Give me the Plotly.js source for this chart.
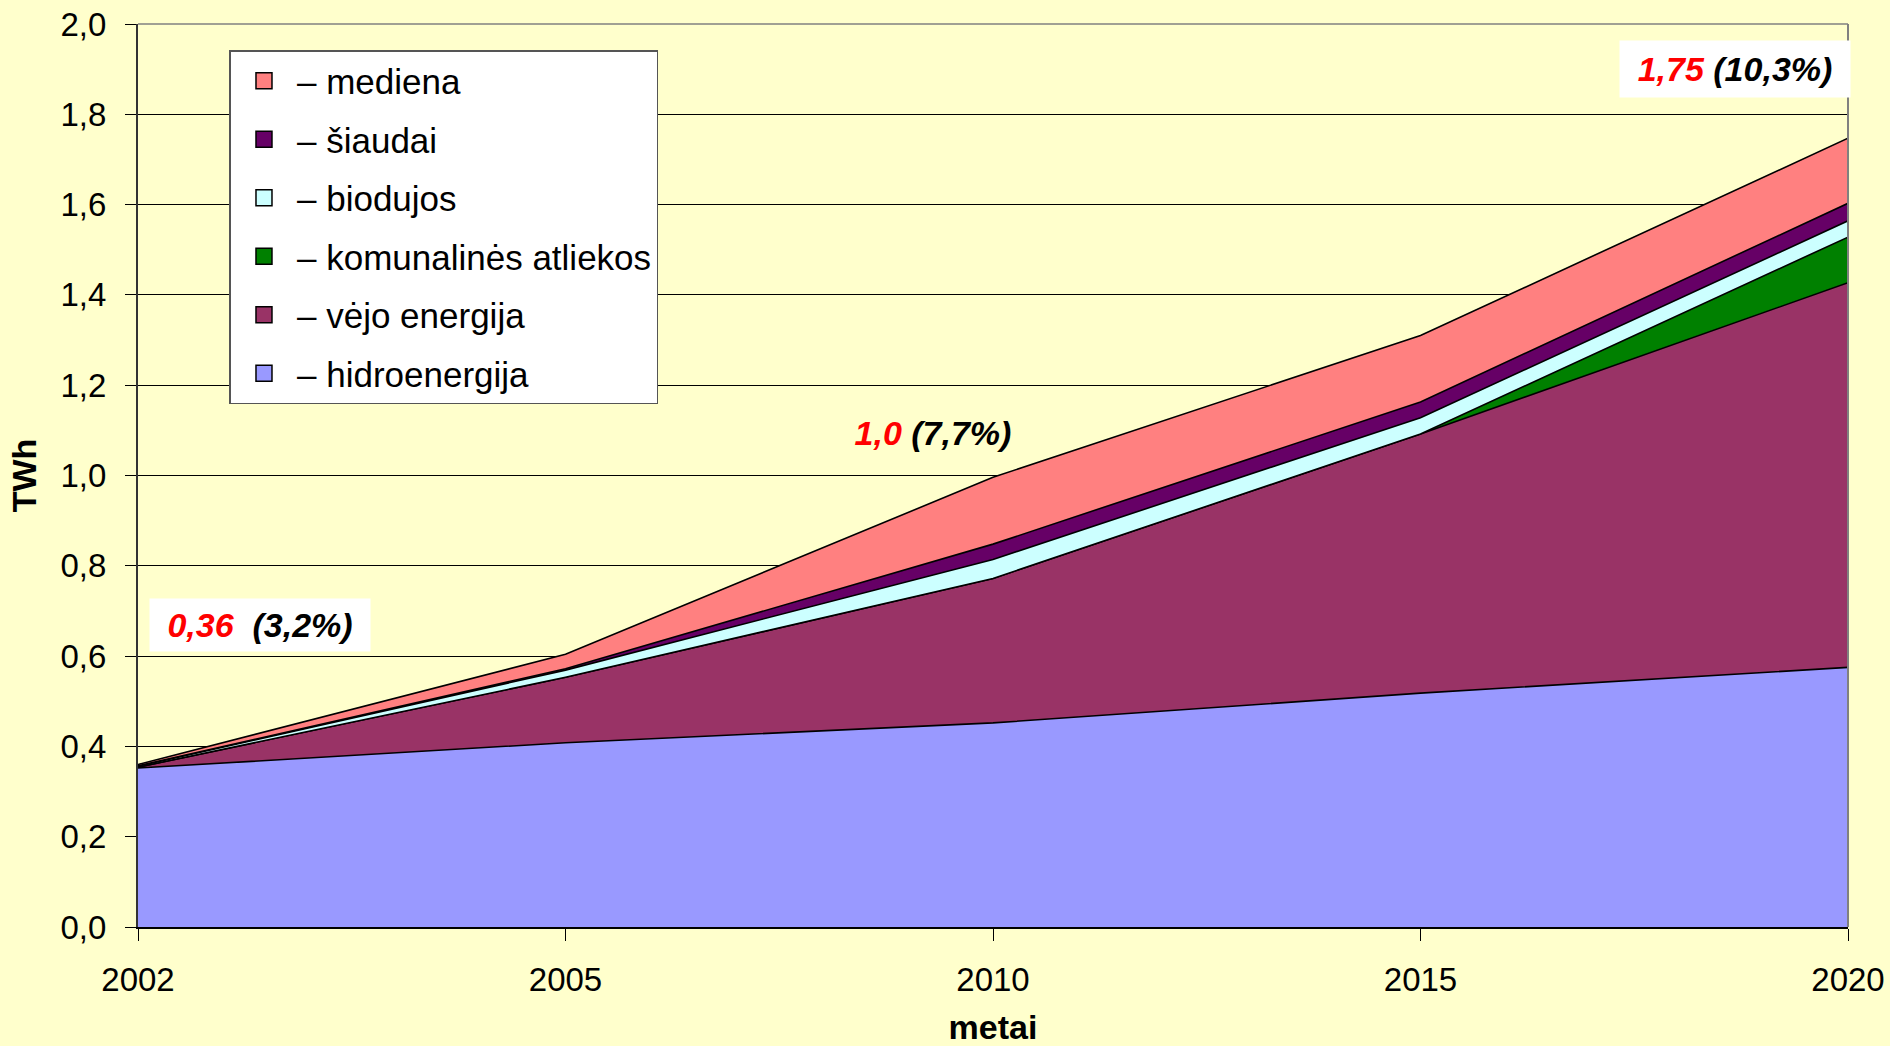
<!DOCTYPE html>
<html>
<head>
<meta charset="utf-8">
<script src="https://cdn.plot.ly/plotly-3.0.1.min.js"></script>
<style>
  html, body { margin: 0; padding: 0; background: #FFFFCC; }
  #chart { width: 1890px; height: 1046px; }
</style>
</head>
<body>
<div id="chart"></div>
<script>
// ---- data (TWh) ----
const years = ['2002', '2005', '2010', '2015', '2020'];
const hidroenergija = [0.352, 0.408, 0.452, 0.518, 0.575];
const vejoEnergija = [0.002, 0.145, 0.320, 0.574, 0.852];
const komunalinesAtliekos = [0, 0, 0, 0, 0.101];
const biodujos = [0.002, 0.016, 0.042, 0.036, 0.036];
const siaudai = [0.001, 0.003, 0.034, 0.035, 0.039];
const mediena = [0.003, 0.032, 0.148, 0.147, 0.144];

const seriesNames = ['hidroenergija', 'vėjo energija', 'komunalinės atliekos', 'biodujos', 'šiaudai', 'mediena'];
const seriesValues = [hidroenergija, vejoEnergija, komunalinesAtliekos, biodujos, siaudai, mediena];
const seriesColors = ['#9999FF', '#993366', '#008000', '#CCFFFF', '#660066', '#FF8080'];
const legendOrder = ['mediena', 'šiaudai', 'biodujos', 'komunalinės atliekos', 'vėjo energija', 'hidroenergija'];

const totalLabels = ['0,36', '1,0', '1,75'];
const shareLabels = ['(3,2%)', '(7,7%)', '(10,3%)'];

const FONT = 'Liberation Sans, Arial, sans-serif';

const traces = [];
seriesNames.forEach((name, i) => {
  traces.push({
    type: 'scatter',
    mode: 'lines',
    x: years,
    y: seriesValues[i],
    name: name,
    stackgroup: 'one',
    fillcolor: seriesColors[i],
    line: { color: '#000000', width: 1.6 },
    showlegend: false,
    hoverinfo: 'x+y+name'
  });
});
legendOrder.forEach((name, k) => {
  const i = seriesNames.indexOf(name);
  traces.push({
    type: 'scatter',
    mode: 'markers',
    x: [null],
    y: [null],
    name: '– ' + name,
    legendgroup: 'g' + k,
    marker: { symbol: 'square', size: 16, color: seriesColors[i], line: { color: '#000000', width: 1.5 } },
    showlegend: true
  });
});

const boxPos = [
  { x: 0.0716, y: 0.3344, w: 218, h: 50, bg: '#FFFFFF' },
  { x: 0.4651, y: 0.5471, w: 170, h: 50, bg: 'rgba(0,0,0,0)' },
  { x: 0.9340, y: 0.9500, w: 228, h: 54, bg: '#FFFFFF' }
];
const annotations = totalLabels.map((t, i) => ({
  xref: 'paper', yref: 'paper',
  x: boxPos[i].x, y: boxPos[i].y,
  xanchor: 'center', yanchor: 'middle',
  showarrow: false,
  width: boxPos[i].w, height: boxPos[i].h,
  bgcolor: boxPos[i].bg,
  text: '<span style="color:#FF0000">' + t + '</span>' + (i === 0 ? '\u00a0\u00a0' : '\u00a0') + shareLabels[i],
  font: { family: FONT, size: 34, color: '#000000', weight: 'bold', style: 'italic' }
}));

const layout = {
  width: 1890,
  height: 1046,
  paper_bgcolor: '#FFFFCC',
  plot_bgcolor: '#FFFFCC',
  separators: ', ',
  margin: { l: 137.5, r: 42, t: 24, b: 119, pad: 0 },
  font: { family: FONT, color: '#000000' },
  showlegend: true,
  legend: {
    x: 0.0535, y: 0.9712, xanchor: 'left', yanchor: 'top',
    bgcolor: '#FFFFFF',
    bordercolor: '#555555',
    borderwidth: 1.5,
    font: { family: FONT, size: 35, color: '#000000' },
    traceorder: 'grouped',
    tracegroupgap: 10,
    itemwidth: 56,
    entrywidth: 0
  },
  xaxis: {
    type: 'category',
    range: [0, 4],
    showgrid: false,
    showline: true,
    linecolor: '#000000',
    linewidth: 2,
    ticks: 'outside',
    ticklen: 12,
    tickcolor: '#000000',
    tickwidth: 1,
    ticklabelstandoff: 10,
    tickfont: { family: FONT, size: 33, color: '#000000' },
    title: { text: 'metai', font: { family: FONT, size: 34, color: '#000000', weight: 'bold' }, standoff: 25 },
    zeroline: false,
    fixedrange: true
  },
  yaxis: {
    range: [0, 2],
    dtick: 0.2,
    tick0: 0,
    tickformat: '.1f',
    showgrid: true,
    gridcolor: '#000000',
    gridwidth: 1,
    showline: true,
    linecolor: '#333333',
    linewidth: 2,
    ticks: 'outside',
    ticklen: 11,
    tickcolor: '#000000',
    tickwidth: 1,
    ticklabelstandoff: 12,
    tickfont: { family: FONT, size: 33, color: '#000000' },
    title: { text: 'TWh', font: { family: FONT, size: 34, color: '#000000', weight: 'bold' }, standoff: 14 },
    zeroline: false,
    fixedrange: true
  },
  shapes: [
    { type: 'line', xref: 'paper', yref: 'paper', x0: 1, x1: 1, y0: 0, y1: 1, line: { color: '#808080', width: 2 }, layer: 'above' },
    { type: 'line', xref: 'paper', yref: 'paper', x0: 0, x1: 1, y0: 1, y1: 1, line: { color: '#808080', width: 1.5 }, layer: 'above' }
  ],
  annotations: annotations
};

Plotly.newPlot('chart', traces, layout, { displayModeBar: false, staticPlot: true });
</script>
</body>
</html>
